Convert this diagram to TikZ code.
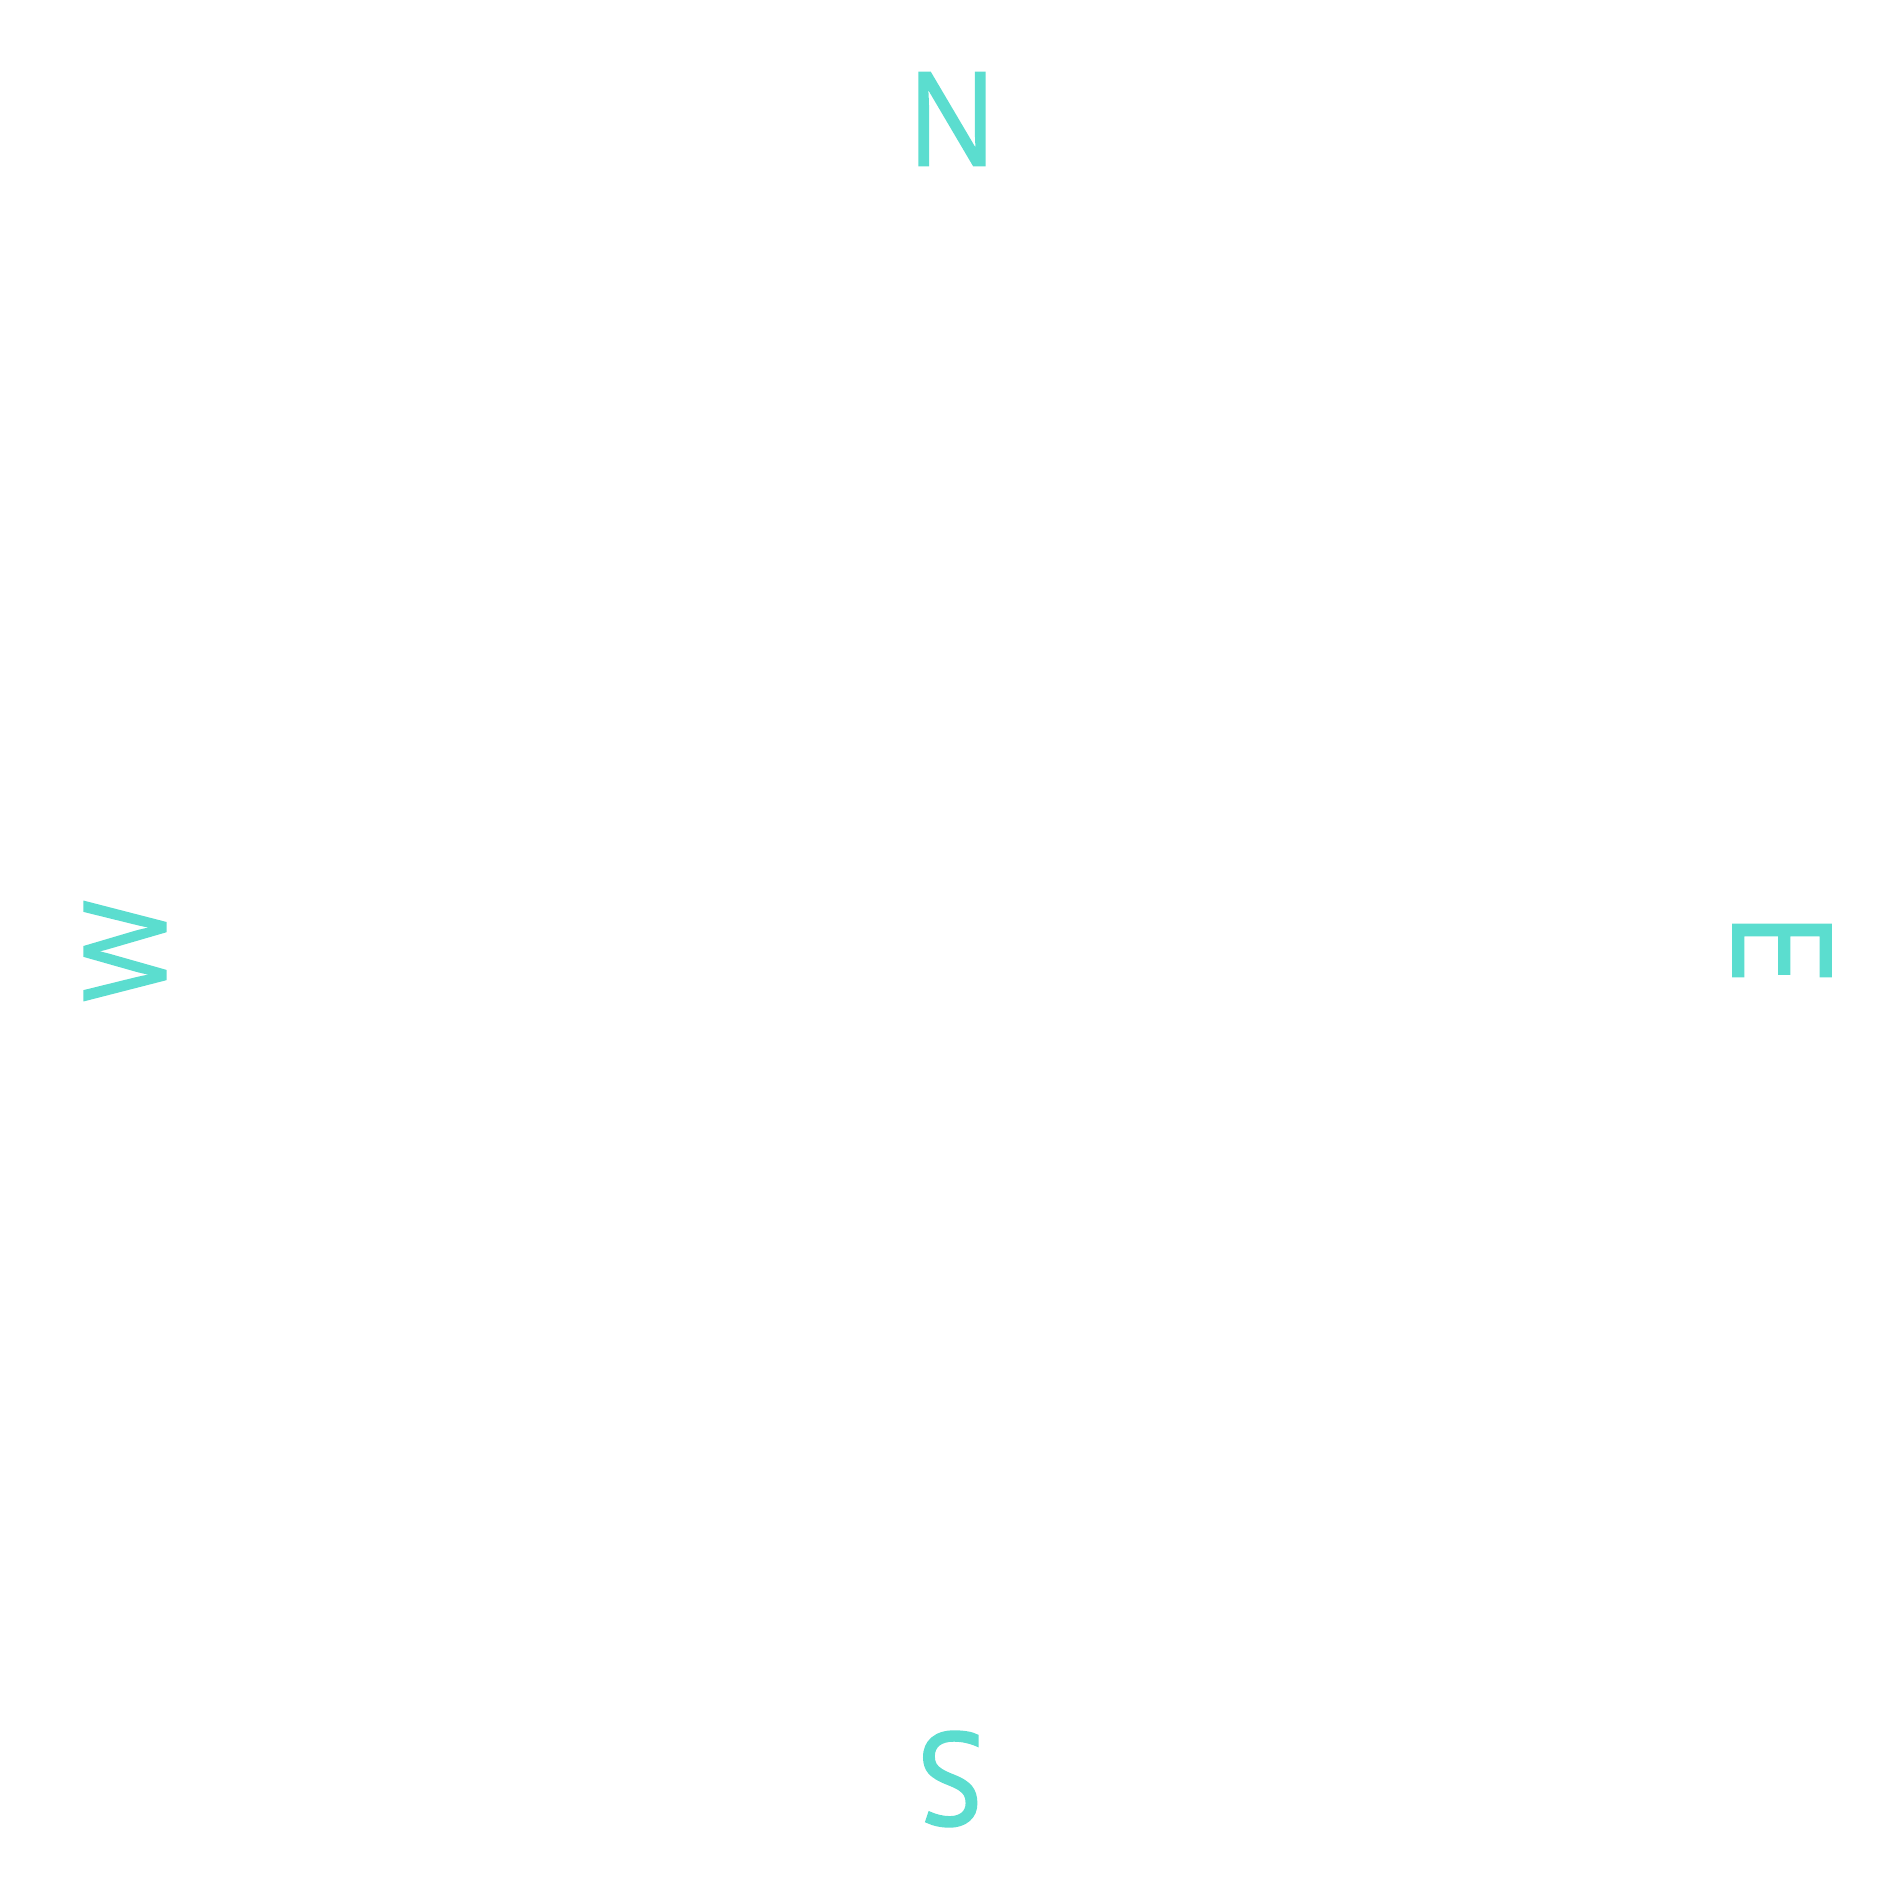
\documentclass[tikz,border=0pt]{standalone}
\usepackage{fontspec}
\setmainfont{Open Sans}
\newfontfamily\compassfont{Open Sans}[FakeBold=1.5]
\usepackage{xcolor}
\usetikzlibrary{positioning}
\definecolor{compassteal}{HTML}{5BDDCF}

\begin{document}
\begin{tikzpicture}[
    compassletter/.style={text=compassteal, font=\compassfont\fontsize{37}{37}\selectfont, inner sep=0pt}
]

% Canvas
\useasboundingbox (0,0) rectangle (19.04,19.04);

% Compass letters, tops facing outward
\node[compassletter, xscale=0.905] (north) at (9.52,17.85) {N};
\node[compassletter, xscale=1.05, rotate=-90] (east) at (17.82,9.56) {E};
\node[compassletter, xscale=0.92, rotate=180] (south) at (9.51,1.25) {S};
\node[compassletter, yscale=0.845, xscale=0.876, rotate=90] (west) at (1.25,9.53) {W};

\end{tikzpicture}
\end{document}
